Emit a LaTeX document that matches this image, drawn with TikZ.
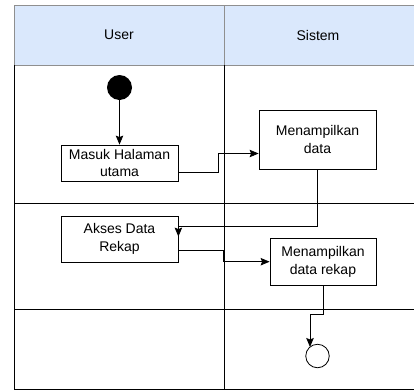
\documentclass[tikz,border=0pt]{standalone}
\usepackage{fontspec}
\setmainfont{Liberation Sans}
\usetikzlibrary{arrows.meta,calc}
\definecolor{headfill}{HTML}{DAE8FC}
\definecolor{headline}{HTML}{8F8F8F}
\begin{document}
\begin{tikzpicture}[x=1pt,y=-1pt,
  every node/.style={font=\fontsize{14}{17.5}\selectfont},
  lane/.style={line width=0.8pt,draw=black},
  act/.style={draw=black,line width=0.8pt,fill=white,align=center,inner sep=1pt},
  arr/.style={line width=0.8pt,-{Stealth[length=9pt,width=7.5pt,inset=1.5pt]}}]
\useasboundingbox (0,0) rectangle (414,391);
% swimlane header
\fill[headfill] (14,5) rectangle (414,65);
\draw[headline,line width=0.8pt] (414,5) -- (14,5) -- (14,65) -- (414,65);
\draw[headline,line width=0.8pt] (224,5) -- (224,65);
\node (hu) at (119,35) {User};
\node (hs) at (318,35) {Sistem};
% lane body
\draw[lane] (14,65) -- (14,389) -- (414,389);
\draw[lane] (224,65) -- (224,389);
\draw[lane] (14,203) -- (414,203);
\draw[lane] (14,309) -- (414,309);
% start and end
\node[circle,fill=black,minimum size=25pt,inner sep=0pt] (start) at (119.5,87.5) {};
\node[circle,draw=black,line width=0.8pt,fill=white,minimum size=23.5pt,inner sep=0pt] (endc) at (317.5,356) {};
% activities
\node[act,minimum width=117pt,minimum height=36pt] (masuk) at (119.5,163) {Masuk Halaman\\utama};
\node[act,minimum width=117pt,minimum height=59pt] (data) at (317.5,139.5) {Menampilkan\\data};
\node[act,minimum width=117pt,minimum height=46pt] (akses) at (119.5,239) {Akses Data\\Rekap};
\node[act,minimum width=106pt,minimum height=47pt] (rekap) at (323,261.7) {Menampilkan\\data rekap};
% flows
\draw[arr] (start) -- (masuk.north);
\draw[arr] ([yshift=-9pt]masuk.east) -- ++(40,0) |- ([yshift=-14pt]data.west);
\draw[arr] (data.south) |- ([yshift=-11pt]akses.north east) -- ([yshift=-21pt]akses.north east);
\draw[arr] ([yshift=-11pt]akses.east) -| ($(rekap.west)+(-46,0)$) -- (rekap.west);
\draw[arr] (rekap.south) -- ++(0,29) -| ($(endc.center)+(-7.5,-9)$);
\end{tikzpicture}
\end{document}
